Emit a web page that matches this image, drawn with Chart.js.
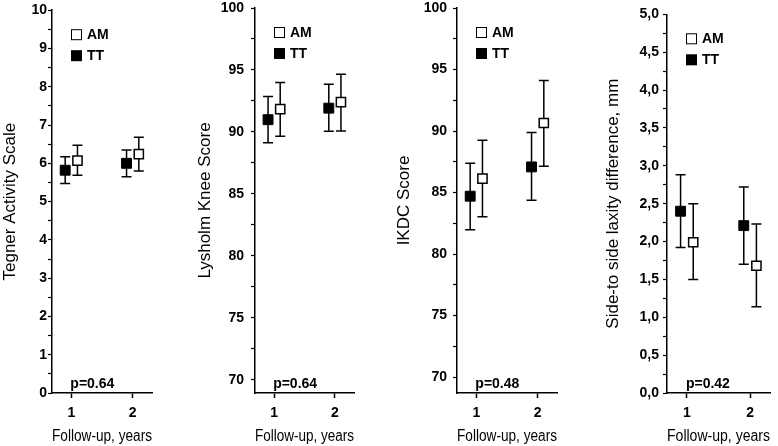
<!DOCTYPE html>
<html>
<head>
<meta charset="utf-8">
<script src="https://cdn.jsdelivr.net/npm/chart.js@4.4.3/dist/chart.umd.min.js"></script>
<style>
  html, body { margin: 0; padding: 0; background: #fff; }
  #wrap { position: relative; width: 778px; height: 446px; overflow: hidden; }
  #wrap canvas { position: absolute; top: 0; }
</style>
</head>
<body>
<div id="wrap">
  <canvas id="tegner"></canvas>
  <canvas id="lysholm"></canvas>
  <canvas id="ikdc"></canvas>
  <canvas id="laxity"></canvas>
</div>
<script>
const years = [1, 2];
const xTickLabels = ["1", "2"];
const seriesNames = ["AM", "TT"];

// Tegner activity scale
const tegnerTT = [5.82, 6.0];
const tegnerTTLow = [5.47, 5.65];
const tegnerTTHigh = [6.17, 6.35];
const tegnerAM = [6.07, 6.24];
const tegnerAMLow = [5.69, 5.80];
const tegnerAMHigh = [6.47, 6.68];
const tegnerTicks = [0, 1, 2, 3, 4, 5, 6, 7, 8, 9, 10];
const tegnerTickLabels = ["0", "1", "2", "3", "4", "5", "6", "7", "8", "9", "10"];

// Lysholm knee score
const lysholmTT = [90.99, 91.92];
const lysholmTTLow = [89.12, 90.05];
const lysholmTTHigh = [92.86, 93.85];
const lysholmAM = [91.84, 92.4];
const lysholmAMLow = [89.66, 90.08];
const lysholmAMHigh = [93.99, 94.65];
const lysholmTicks = [70, 75, 80, 85, 90, 95, 100];
const lysholmTickLabels = ["70", "75", "80", "85", "90", "95", "100"];

// IKDC score
const ikdcTT = [84.7, 87.08];
const ikdcTTLow = [81.97, 84.38];
const ikdcTTHigh = [87.38, 89.87];
const ikdcAM = [86.13, 90.65];
const ikdcAMLow = [83.02, 87.13];
const ikdcAMHigh = [89.24, 94.1];
const ikdcTicks = [70, 75, 80, 85, 90, 95, 100];
const ikdcTickLabels = ["70", "75", "80", "85", "90", "95", "100"];

// side-to-side laxity
const laxityTT = [2.40, 2.21];
const laxityTTLow = [1.92, 1.70];
const laxityTTHigh = [2.88, 2.72];
const laxityAM = [1.99, 1.68];
const laxityAMLow = [1.50, 1.14];
const laxityAMHigh = [2.50, 2.23];
const laxityTicks = [0, 0.5, 1, 1.5, 2, 2.5, 3, 3.5, 4, 4.5, 5];
const laxityTickLabels = ["0,0", "0,5", "1,0", "1,5", "2,0", "2,5", "3,0", "3,5", "4,0", "4,5", "5,0"];

const pValues = ["p=0.64", "p=0.64", "p=0.48", "p=0.42"];

const FONT = "'Liberation Sans', Arial, Helvetica, sans-serif";
const INK = "#000";
const dodge = 0.1;

const errorBars = {
  id: "errorBars",
  beforeDatasetsDraw(chart) {
    const { ctx, scales: { x, y } } = chart;
    ctx.save();
    ctx.strokeStyle = INK;
    ctx.lineWidth = 1.5;
    chart.data.datasets.forEach((ds) => {
      ds.data.forEach((pt, i) => {
        const px = x.getPixelForValue(pt.x);
        const lo = y.getPixelForValue(ds.low[i]);
        const hi = y.getPixelForValue(ds.high[i]);
        ctx.beginPath();
        ctx.moveTo(px, lo); ctx.lineTo(px, hi);
        ctx.moveTo(px - 5, lo); ctx.lineTo(px + 5, lo);
        ctx.moveTo(px - 5, hi); ctx.lineTo(px + 5, hi);
        ctx.stroke();
      });
    });
    ctx.restore();
  }
};

const annotations = {
  id: "annotations",
  afterDraw(chart, args, opts) {
    const { ctx, chartArea, scales: { x } } = chart;
    ctx.save();
    // legend
    const bx = chartArea.left + 19;
    const rows = [chartArea.top + 24, chartArea.top + 45];
    ctx.font = "bold 14px " + FONT;
    ctx.textBaseline = "middle";
    ctx.textAlign = "left";
    seriesNames.forEach((name, i) => {
      const cy = rows[i];
      if (name === "AM") {
        ctx.fillStyle = "#fff";
        ctx.fillRect(bx, cy - 5, 10, 10);
        ctx.strokeStyle = INK;
        ctx.lineWidth = 1;
        ctx.strokeRect(bx + 0.5, cy - 4.5, 10, 10);
      } else {
        ctx.fillStyle = INK;
        ctx.fillRect(bx, cy - 5, 11, 11);
      }
      ctx.fillStyle = INK;
      ctx.fillText(name, bx + 16, cy + 1);
    });
    // p value
    ctx.font = "bold 14px " + FONT;
    ctx.textBaseline = "alphabetic";
    ctx.fillText(opts.text, x.getPixelForValue(years[0]) - 1, chartArea.bottom - 5);
    ctx.restore();
  }
};

function minorTicks(majors) {
  const out = [];
  for (let i = 0; i < majors.length; i++) {
    out.push(majors[i]);
    if (i < majors.length - 1) out.push((majors[i] + majors[i + 1]) / 2);
  }
  return out;
}

function makePanel(id, p) {
  const canvas = document.getElementById(id);
  canvas.width = p.width;
  canvas.height = 446;
  canvas.style.left = p.left + "px";

  const allTicks = minorTicks(p.ticks).filter(v => v >= p.min && v <= p.max);

  new Chart(canvas, {
    type: "scatter",
    data: {
      datasets: [
        {
          label: "AM",
          data: years.map((yr, i) => ({ x: yr + dodge, y: p.am[i] })),
          low: p.amLow, high: p.amHigh,
          pointStyle: "rect", pointRadius: 6.5,
          backgroundColor: "#fff", borderColor: INK, borderWidth: 1.5
        },
        {
          label: "TT",
          data: years.map((yr, i) => ({ x: yr - dodge, y: p.tt[i] })),
          low: p.ttLow, high: p.ttHigh,
          pointStyle: "rect", pointRadius: 7,
          backgroundColor: INK, borderColor: INK, borderWidth: 1
        }
      ]
    },
    options: {
      responsive: false,
      animation: false,
      layout: { padding: { top: p.top, left: 0, right: p.right, bottom: 0 } },
      plugins: {
        legend: { display: false },
        tooltip: { enabled: false },
        annotations: { text: p.pText }
      },
      scales: {
        x: {
          type: "linear",
          min: 0.685, max: 2.315,
          afterBuildTicks: (s) => { s.ticks = years.map(v => ({ value: v })); },
          afterFit: (s) => { s.height = 53; s.paddingLeft = 0; s.paddingRight = 0; },
          ticks: {
            autoSkip: false, maxRotation: 0, padding: 7, color: INK,
            font: { family: FONT, size: 14, weight: "bold" },
            callback: (v) => xTickLabels[years.indexOf(v)]
          },
          grid: { drawOnChartArea: false, tickLength: 5, tickColor: INK, tickWidth: 1.5 },
          border: { color: INK, width: 1.5 },
          title: {
            display: true, text: "Follow-up, years", color: INK,
            font: { family: FONT, size: 16 }, padding: { top: 0, bottom: 0 }
          }
        },
        y: {
          min: p.min, max: p.max,
          afterBuildTicks: (s) => { s.ticks = allTicks.map(v => ({ value: v })); },
          afterFit: (s) => { s.width = p.axisWidth; s.paddingTop = 0; s.paddingBottom = 0; },
          ticks: {
            autoSkip: false, padding: p.labelPad, color: INK,
            font: { family: FONT, size: 14, weight: "bold" },
            callback: (v) => {
              const k = p.ticks.findIndex(t => Math.abs(t - v) < 1e-6);
              return k >= 0 ? p.tickLabels[k] : "";
            }
          },
          grid: { drawOnChartArea: false, tickLength: 4, tickColor: INK, tickWidth: 1.2 },
          border: { color: INK, width: 1.5 },
          title: {
            display: true, text: p.title, color: INK,
            font: { family: FONT, size: 17 }, padding: { top: p.titlePad, bottom: 0 }
          }
        }
      }
    },
    plugins: [errorBars, annotations]
  });
}

makePanel("tegner", {
  left: 0, width: 160, axisWidth: 52, right: 0, top: 10.2, labelPad: 1, titlePad: 0,
  min: 0, max: 10, ticks: tegnerTicks, tickLabels: tegnerTickLabels,
  title: "Tegner Activity Scale", pText: pValues[0],
  tt: tegnerTT, ttLow: tegnerTTLow, ttHigh: tegnerTTHigh,
  am: tegnerAM, amLow: tegnerAMLow, amHigh: tegnerAMHigh
});
makePanel("lysholm", {
  left: 195, width: 167, axisWidth: 60, right: 0, top: 5.9, labelPad: 7, titlePad: 0,
  min: 68.94, max: 100, ticks: lysholmTicks, tickLabels: lysholmTickLabels,
  title: "Lysholm Knee Score", pText: pValues[1],
  tt: lysholmTT, ttLow: lysholmTTLow, ttHigh: lysholmTTHigh,
  am: lysholmAM, amLow: lysholmAMLow, amHigh: lysholmAMHigh
});
makePanel("ikdc", {
  left: 390, width: 175, axisWidth: 67, right: 0, top: 7.3, labelPad: 6, titlePad: 4,
  min: 68.7, max: 100, ticks: ikdcTicks, tickLabels: ikdcTickLabels,
  title: "IKDC Score", pText: pValues[2],
  tt: ikdcTT, ttLow: ikdcTTLow, ttHigh: ikdcTTHigh,
  am: ikdcAM, amLow: ikdcAMLow, amHigh: ikdcAMHigh
});
makePanel("laxity", {
  left: 585, width: 193, axisWidth: 82, right: 3, top: 14.3, labelPad: 4, titlePad: 18,
  min: 0, max: 5, ticks: laxityTicks, tickLabels: laxityTickLabels,
  title: "Side-to side laxity difference, mm", pText: pValues[3],
  tt: laxityTT, ttLow: laxityTTLow, ttHigh: laxityTTHigh,
  am: laxityAM, amLow: laxityAMLow, amHigh: laxityAMHigh
});
</script>
</body>
</html>
